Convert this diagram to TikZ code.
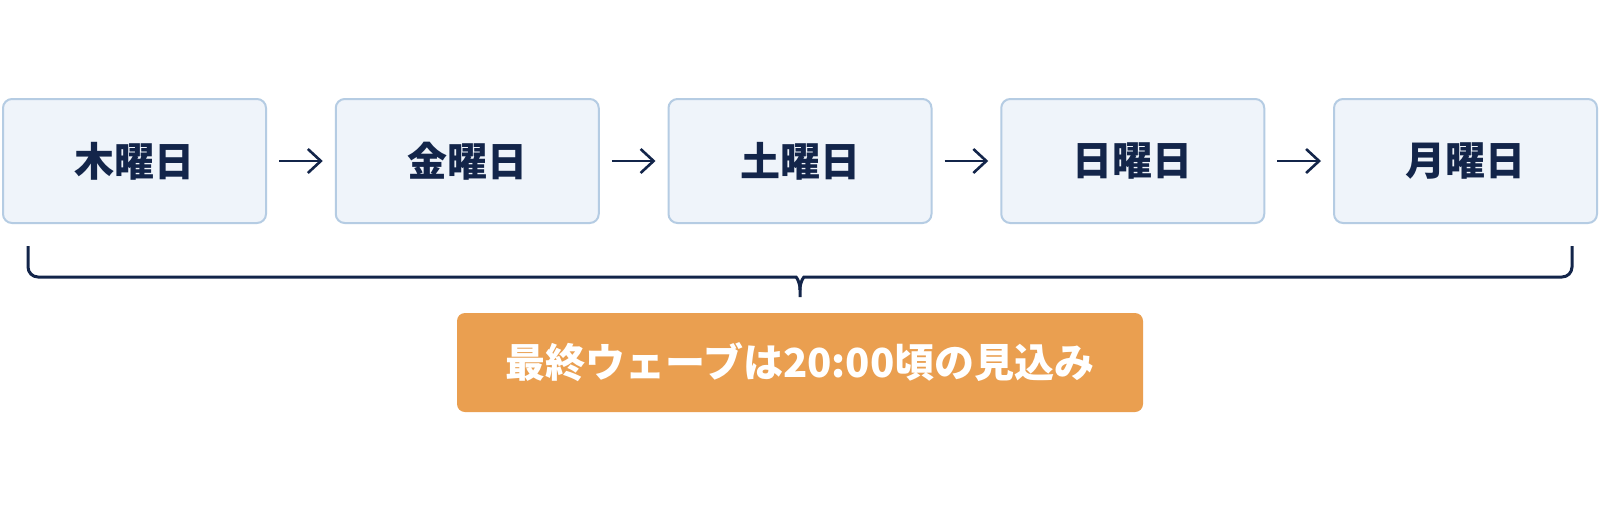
\documentclass[tikz,border=0pt]{standalone}
\usepackage{fontspec}
\setmainfont{Noto Sans CJK JP}
\usetikzlibrary{positioning, arrows.meta}

\definecolor{navy}{HTML}{13254A}
\definecolor{dayfill}{HTML}{EFF4FA}
\definecolor{dayline}{HTML}{B5CCE3}
\definecolor{waveorange}{HTML}{EA9F50}

\tikzset{
  daybox/.style = {draw = dayline, fill = dayfill, line width = 2pt, rounded corners = 9pt,
    minimum width = 263pt, minimum height = 124pt, text = navy,
    font = \fontsize{40}{48}\selectfont\bfseries},
  flow/.style = {-{Straight Barb[length = 13pt, width = 24pt, line width = 2.6pt]}, draw = navy,
    line width = 2.6pt, shorten < = 12pt, shorten > = 12pt},
  brace/.style = {draw = navy, line width = 3pt},
}

\begin{document}
\begin{tikzpicture}[x = 1pt, y = -1pt, node distance = 67.75pt]
            \useasboundingbox[fill = white] (0,0) rectangle (1600,509);
            \node[daybox] (thu) at (134.5,161) {木曜日};
            \node[daybox, right = of thu] (fri) {金曜日};
            \node[daybox, right = of fri] (sat) {土曜日};
            \node[daybox, right = of sat] (sun) {日曜日};
            \node[daybox, right = of sun] (mon) {月曜日};
            \draw[flow] (thu) -- (fri);
            \draw[flow] (fri) -- (sat);
            \draw[flow] (sat) -- (sun);
            \draw[flow] (sun) -- (mon);
            % brace under the five days
            \draw[brace] (28,246) [rounded corners = 10pt] -- (28,277) -- (786,277)
              [sharp corners] .. controls (796,277) and (800,281) .. (800,290) -- (800,297);
            \draw[brace] (1572,246) [rounded corners = 10pt] -- (1572,277) -- (814,277)
              [sharp corners] .. controls (804,277) and (800,281) .. (800,290);
            \node[fill = waveorange, rounded corners = 8pt, minimum width = 686pt, minimum height = 99pt,
              text = white, font = \fontsize{40}{48}\selectfont\bfseries]
              (wave) at (800,362.5) {最終ウェーブは20:00頃の見込み};
        \end{tikzpicture}
\end{document}
